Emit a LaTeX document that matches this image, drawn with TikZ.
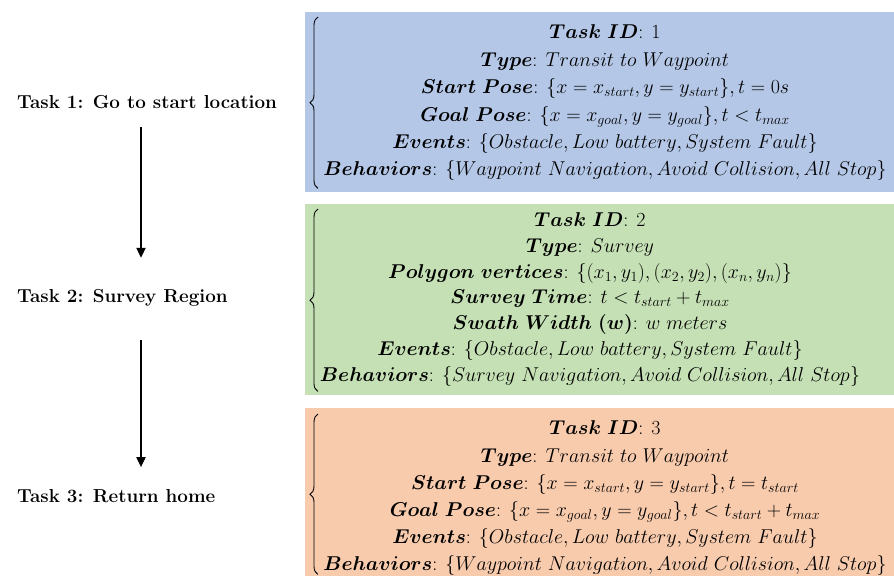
\RequirePackage{fix-cm}
\documentclass[tikz,border=0pt]{standalone}
\usepackage{amsmath}
\usetikzlibrary{arrows.meta,decorations.pathreplacing}
\definecolor{boxblue}{HTML}{B4C7E7}
\definecolor{boxgreen}{HTML}{C5E0B4}
\definecolor{boxorange}{HTML}{F8CBAD}
\begin{document}
\begin{tikzpicture}[x=1pt,y=1pt,
  panel/.style={rectangle,draw=none,inner sep=0,anchor=north west,minimum width=589pt},
  info/.style={align=center,inner sep=0},
  tasklabel/.style={anchor=west,inner sep=0,font=\fontsize{18.8}{22}\selectfont\bfseries},
  flowarrow/.style={line width=1.8pt,-{Triangle[length=10pt,width=9pt]}},
  bracket/.style={decorate,decoration={brace,amplitude=8pt},line width=0.9pt}
]
\useasboundingbox (0,0) rectangle (894,-576);
% panels
\node[panel,fill=boxblue,minimum height=180pt] (b1) at (305,-12) {};
\node[panel,fill=boxgreen,minimum height=191pt] (b2) at (305,-204) {};
\node[panel,fill=boxorange,minimum height=168pt] (b3) at (305,-408) {};
% braces
\draw[bracket] ([xshift=13pt,yshift=4pt]b1.south west) -- ([xshift=13pt,yshift=-5pt]b1.north west);
\draw[bracket] ([xshift=13pt,yshift=4pt]b2.south west) -- ([xshift=13pt,yshift=-5pt]b2.north west);
\draw[bracket] ([xshift=13pt,yshift=2pt]b3.south west) -- ([xshift=13pt,yshift=-6pt]b3.north west);
% contents
\node[info,font=\fontsize{20}{27.4}\selectfont] (i1) at (605,-103) {%
$\boldsymbol{Task\ ID}$: 1\\
$\boldsymbol{Type}$: $Transit\ to\ Waypoint$\\
$\boldsymbol{Start\ Pose}$: $\{x=x_{start}, y=y_{start}\}, t=0s$\\
$\boldsymbol{Goal\ Pose}$: $\{x=x_{goal}, y=y_{goal}\}, t<t_{max}$\\
$\boldsymbol{Events}$: $\{Obstacle, Low\ battery, System\ Fault\}$\\
$\boldsymbol{Behaviors}$: $\{Waypoint\ Navigation, Avoid\ Collision, All\ Stop\}$};
\node[info,font=\fontsize{20}{25.8}\selectfont] (i2) at (590,-299.5) {%
$\boldsymbol{Task\ ID}$: 2\\
$\boldsymbol{Type}$: $Survey$\\
$\boldsymbol{Polygon\ vertices}$: $\{(x_1,y_1),(x_2,y_2),(x_n,y_n)\}$\\
$\boldsymbol{Survey\ Time}$: $t<t_{start}+t_{max}$\\
$\boldsymbol{Swath\ Width\ (w)}$: $w\ meters$\\
$\boldsymbol{Events}$: $\{Obstacle, Low\ battery, System\ Fault\}$\\
$\boldsymbol{Behaviors}$: $\{Survey\ Navigation, Avoid\ Collision, All\ Stop\}$};
\node[info,font=\fontsize{20}{27.2}\selectfont] (i3) at (605,-498.5) {%
$\boldsymbol{Task\ ID}$: 3\\
$\boldsymbol{Type}$: $Transit\ to\ Waypoint$\\
$\boldsymbol{Start\ Pose}$: $\{x=x_{start}, y=y_{start}\}, t=t_{start}$\\
$\boldsymbol{Goal\ Pose}$: $\{x=x_{goal}, y=y_{goal}\}, t<t_{start}+t_{max}$\\
$\boldsymbol{Events}$: $\{Obstacle, Low\ battery, System\ Fault\}$\\
$\boldsymbol{Behaviors}$: $\{Waypoint\ Navigation, Avoid\ Collision, All\ Stop\}$};
% task labels
\node[tasklabel] (t1) at (17,-102) {Task 1: Go to start location};
\node[tasklabel] (t2) at (17,-298) {Task 2: Survey Region};
\node[tasklabel] (t3) at (17,-496) {Task 3: Return home};
\coordinate (ax) at (141,0);
\draw[flowarrow,shorten <=18.5pt,shorten >=31.5pt] (t1.south -| ax) -- (t2.north -| ax);
\draw[flowarrow,shorten <=33.5pt,shorten >=22pt] (t2.south -| ax) -- (t3.north -| ax);
\end{tikzpicture}
\end{document}
